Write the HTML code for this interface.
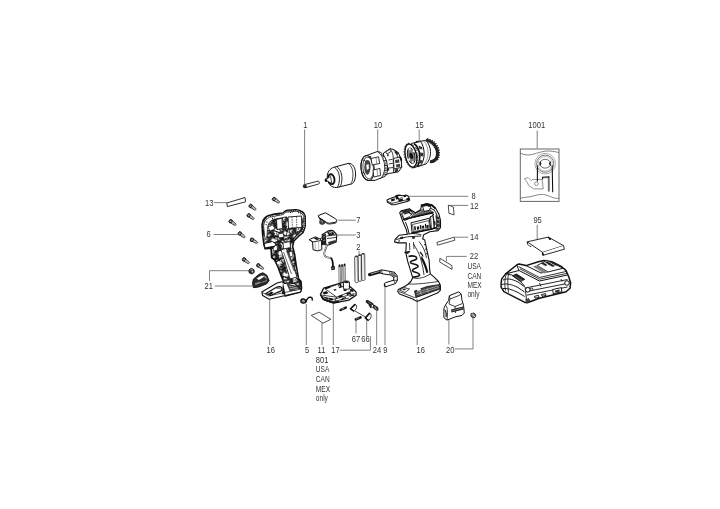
<!DOCTYPE html>
<html><head><meta charset="utf-8">
<style>
html,body{margin:0;padding:0;background:#fff;}
svg{display:block;will-change:transform;}
.t{font-family:"Liberation Sans",sans-serif;font-size:8.8px;fill:#333;}
.ld{stroke:#555;stroke-width:0.75;fill:none;}
.o{stroke:#1a1a1a;stroke-width:0.9;fill:#fff;stroke-linejoin:round;stroke-linecap:round;}
.d{stroke:#1a1a1a;stroke-width:0.7;fill:none;stroke-linecap:round;}
</style></head>
<body>
<svg width="720" height="509" viewBox="0 0 720 509">
<defs>
 <pattern id="tex" width="10" height="10" patternUnits="userSpaceOnUse" patternTransform="rotate(15)">
  <rect width="10" height="10" fill="#fff"/>
  <circle cx="4.5" cy="5.6" r="1.13" fill="none" stroke="#111" stroke-width="0.7"/>
  <path d="M5.1,5.9 L5.0,9.1" stroke="#111" stroke-width="1.12" stroke-linecap="round"/>
  <path d="M0.9,3.0 L-1.8,4.9" stroke="#111" stroke-width="0.82" stroke-linecap="round"/>
  <circle cx="9.8" cy="9.6" r="0.85" fill="#111"/>
  <path d="M1.6,0.2 L3.8,0.6" stroke="#111" stroke-width="0.90" stroke-linecap="round"/>
  <path d="M0.3,4.6 L-2.3,6.0" stroke="#111" stroke-width="1.06" stroke-linecap="round"/>
  <path d="M5.0,6.6 L7.6,9.7" stroke="#111" stroke-width="1.20" stroke-linecap="round"/>
  <path d="M8.4,7.1 L10.2,8.7" stroke="#111" stroke-width="0.83" stroke-linecap="round"/>
  <circle cx="7.7" cy="4.0" r="0.75" fill="#111"/>
  <path d="M9.6,8.5 L12.6,10.8" stroke="#111" stroke-width="0.99" stroke-linecap="round"/>
  <path d="M9.8,4.0 L8.4,7.2" stroke="#111" stroke-width="0.91" stroke-linecap="round"/>
  <circle cx="0.9" cy="3.3" r="1.28" fill="none" stroke="#111" stroke-width="0.7"/>
  <path d="M1.2,2.5 L4.7,3.1" stroke="#111" stroke-width="0.87" stroke-linecap="round"/>
  <path d="M5.6,4.5 L4.2,6.0" stroke="#111" stroke-width="1.06" stroke-linecap="round"/>
  <path d="M1.2,4.2 L3.8,7.2" stroke="#111" stroke-width="1.12" stroke-linecap="round"/>
  <path d="M3.0,8.8 L4.2,12.3" stroke="#111" stroke-width="1.06" stroke-linecap="round"/>
  <path d="M1.0,9.9 L3.4,12.4" stroke="#111" stroke-width="0.93" stroke-linecap="round"/>
  <path d="M3.0,0.7 L2.4,3.0" stroke="#111" stroke-width="1.04" stroke-linecap="round"/>
  <circle cx="3.7" cy="4.5" r="1.14" fill="none" stroke="#111" stroke-width="0.7"/>
  <path d="M5.7,8.7 L9.1,10.4" stroke="#111" stroke-width="1.13" stroke-linecap="round"/>
  <circle cx="2.5" cy="1.9" r="0.98" fill="#111"/>
  <circle cx="2.0" cy="9.5" r="1.20" fill="none" stroke="#111" stroke-width="0.7"/>
  <path d="M4.2,1.0 L1.9,1.3" stroke="#111" stroke-width="1.08" stroke-linecap="round"/>
  <path d="M2.6,8.2 L3.9,10.0" stroke="#111" stroke-width="1.09" stroke-linecap="round"/>
  <path d="M0.7,2.3 L-2.1,3.7" stroke="#111" stroke-width="0.91" stroke-linecap="round"/>
  <path d="M9.2,2.0 L11.0,4.1" stroke="#111" stroke-width="0.82" stroke-linecap="round"/>
  <path d="M1.8,3.7 L4.1,4.7" stroke="#111" stroke-width="1.16" stroke-linecap="round"/>
  <circle cx="9.8" cy="6.6" r="0.83" fill="#111"/>
  <path d="M1.4,0.4 L-1.8,1.3" stroke="#111" stroke-width="1.19" stroke-linecap="round"/>
  <path d="M0.2,6.4 L-1.4,8.2" stroke="#111" stroke-width="1.20" stroke-linecap="round"/>
  <circle cx="0.8" cy="5.5" r="0.96" fill="#111"/>
  <circle cx="7.4" cy="7.0" r="0.97" fill="#111"/>
  <circle cx="3.5" cy="6.9" r="1.34" fill="none" stroke="#111" stroke-width="0.7"/>
  <circle cx="4.2" cy="7.9" r="1.19" fill="none" stroke="#111" stroke-width="0.7"/>
 </pattern>

</defs>


<!-- ===== TOP ROW ===== -->
<!-- pin 1 -->
<g>
 <path class="o" d="M304.5,184.6 L318.2,181.1 C319.4,180.9 319.8,183.6 318.7,184 L305,187.8 Z"/>
 <circle cx="304.8" cy="186.2" r="1.9" fill="#222"/>
</g>
<!-- chuck -->
<g>
 <path d="M333.8,167.3 L348.2,163.4 C353,163 355.5,168 355.6,174 C355.7,180 353,184.5 350.5,184.2 L336.8,187.5 C331,188 327.5,183 327.2,178 C327,172 330,168.5 333.8,167.3 Z" fill="#fff" stroke="#111" stroke-width="1" stroke-linejoin="round"/>
 <path d="M334.5,167.2 C338.5,170 340,176 339.3,181 C338.8,185 338,186.8 337,187.4" fill="none" stroke="#111" stroke-width="0.9"/>
 <path d="M336.8,166.7 C341,169.5 342.5,176 341.8,181 C341.3,184.8 340.5,186.5 339.5,187" fill="none" stroke="#111" stroke-width="0.9"/>
 <path d="M348.2,163.4 C352,166 353,171 353,175 C353,179 352,183 350.5,184.2" fill="none" stroke="#111" stroke-width="0.8"/>
 <ellipse cx="331.3" cy="179.2" rx="3.1" ry="5" transform="rotate(-10 331.3 179.2)" fill="#fff" stroke="#111" stroke-width="1.9"/>
 <path d="M325.6,180 L330.5,176.3 L331.8,183.5 Z" fill="#fff" stroke="#111" stroke-width="0.8" stroke-linejoin="round"/>
 <ellipse cx="325.9" cy="180.2" rx="1.2" ry="1.9" fill="#111"/>
</g>
<!-- gear housing 10 -->
<g>
 <!-- rear housing -->
 <path d="M383.5,153 L390.1,148.7 L393.1,149.3 L398.3,152.5 L399.8,156.2 L401.3,161.4 L401.7,167.4 L398.3,171.9 L389.4,173.4 L384.5,175 Z" fill="#fff" stroke="#111" stroke-width="1" stroke-linejoin="round"/>
 <path d="M390.1,148.7 C392,151 393,154 393.2,157 L393.5,172.8 M393.1,149.3 C395.5,151.5 397,154 397.5,157" fill="none" stroke="#111" stroke-width="0.8"/>
 <path d="M393.5,158.5 L399.5,157 L401.4,161.5 L401.6,167.4 L394,169 Z" fill="#fff" stroke="#111" stroke-width="0.9"/>
 <path d="M395,160 L399,159.2 L399.5,162.5 L395.5,163.3 Z M396,164.5 L400,163.8 L400.3,166.8 L396.3,167.5 Z" fill="#444"/>
 <path d="M387,154.5 L388.6,154 L388.8,156 L387.2,156.5 Z M386.5,168 L389,167.5 L389.3,170.5 L386.8,171 Z" fill="#333"/>
 <path d="M398.3,152.5 L397,155" stroke="#111" stroke-width="1"/>
 <path d="M385.5,152 L389.5,149.5 L391,151.5 L387,154 Z" fill="#fff" stroke="#111" stroke-width="0.8"/>
 <path d="M395.5,150.5 L398,152.3 L396.5,154.5 L394.5,152.5 Z" fill="#222"/>
 <path d="M388.5,160 L392.5,159.3 M388.8,164 L392.8,163.3 M389,168 L393,167.5" stroke="#111" stroke-width="0.8"/>
 <path d="M399.8,156.2 L401.5,159 L401.3,161.5" fill="none" stroke="#111" stroke-width="1.2"/>
 <path d="M394.5,169.5 L398,168.8 L398.3,171.6 L394.8,172.2 Z" fill="#333"/>
 <!-- body cylinder with ring band -->
 <path d="M365.5,156 L369.2,154.5 L377.4,151.5 L380.4,152.3 C384.5,155 387,160 387.5,167 C387.8,172 386.5,175.5 384.9,176.4 L375.2,180.3 L370.7,180.5 C364,181.5 361,174 361,166.5 C361,161.5 362.5,157.5 365.5,156 Z" fill="#fff" stroke="#111" stroke-width="1" stroke-linejoin="round"/>
 <path d="M377.4,151.6 C381.5,154 384,159 384.6,165 C385,171 383.5,176 380.5,178.5" fill="none" stroke="#111" stroke-width="0.9"/>
 <path d="M380.8,154.5 L384,156.8 M383.2,160.5 L386.5,160.8 M384.4,165.5 L387.3,165.6 M384.6,170.5 L387.3,170.2 M383.5,175 L386,174.5" stroke="#111" stroke-width="0.9"/>
 <path d="M381.5,156 L383.5,157.5 L384.2,160.2 L382.3,159.5 Z M384,162 L386.3,162.5 L386.6,164.8 L384.4,164.5 Z M384.5,167.3 L387,167.3 L386.8,169.5 L384.6,169.6 Z M384,172 L386.4,171.6 L385.6,173.6 L383.5,174 Z" fill="#777"/>
 <!-- front rim -->
 <ellipse cx="367.6" cy="168" rx="6.6" ry="12.6" transform="rotate(-6 367.6 168)" fill="none" stroke="#111" stroke-width="1"/>
 <ellipse cx="368.2" cy="168" rx="5.2" ry="11" transform="rotate(-6 368.2 168)" fill="none" stroke="#111" stroke-width="0.7"/>
 <!-- windows on body -->
 <path d="M371,158.5 L378.5,156.8 L379.7,163.5 L372.2,165 Z M373,170 L380,168.5 L380.5,175.5 L373.8,177 Z" fill="#fff" stroke="#111" stroke-width="0.85"/>
 <path d="M376,157.5 L376.8,164 M377,169.2 L377.6,176" stroke="#555" stroke-width="0.6"/>
 <path d="M365,161.5 C366.5,159 369.5,159.5 370.3,163 C371,167 370.5,172.5 368,174.5 C366,175.5 364.3,172 364.3,167 Z" fill="#444"/>
 <path d="M366.3,165 L368.5,164 L369,168.5 L366.8,170 Z" fill="#fff"/>
 <path d="M362.8,171.5 L365,174.5 M369,157.5 L371.2,156.3 M363.5,160 L365.5,161" stroke="#111" stroke-width="0.9"/>
</g>
<!-- motor 15 -->
<g>
 <!-- rear gear -->
 <path d="M425.9,140.4 C430,140.5 434.5,144 436.5,148.5 C438.3,152.5 437.8,157.5 435,160 C433.5,161.5 431.5,161.8 430,161.5" fill="none" stroke="#222" stroke-width="3.2"/>
 <path d="M427,139 C431.5,139.2 436.2,143 438.3,148 C440,152.5 439.5,158 436.5,161" fill="none" stroke="#222" stroke-width="1.6" stroke-dasharray="1.3 1.1"/>
 <path d="M426.5,141.5 C430,142 433.3,145 434.8,149 C436,152.5 435.8,156.5 433.8,158.8" fill="none" stroke="#fff" stroke-width="0.5" stroke-dasharray="1 1.2"/>
 <!-- white band -->
 <path d="M416,141.5 L425.9,140.6 C428.5,143 430.3,147 430.5,151.5 C430.6,156 429.5,161 425.9,164 L418,166.5 Z" fill="#fff" stroke="#111" stroke-width="1"/>
 <path d="M424,141.2 C426.5,144 428,148.5 428,153 C428,157.5 426.5,161.5 424,164.3" fill="none" stroke="#555" stroke-width="0.6"/>
 <!-- ribbed zone -->
 <path d="M411.8,143.3 L420.6,141.5 C422.8,144 424,149 424.2,153.5 C424.3,158 423,162.5 420.5,165.5 L413.8,167.8 Z" fill="#fff" stroke="#111" stroke-width="1"/>
 <path d="M414,143.5 C417.5,146 419.5,151 419.8,156 C420,160 419,164 417.5,166.8" fill="none" stroke="#111" stroke-width="1.6"/>
 <path d="M418.5,145.5 L422,147 L422.5,149.5 L419.5,149 Z M420,152.5 L423.5,153 L423.3,156.5 L420.3,156 Z M419,160 L422.5,160.3 L421.5,163.5 L418.7,163 Z" fill="#333"/>
 <path d="M415.5,147.5 L418.5,151 M416,158 L418.8,155.5" stroke="#111" stroke-width="0.9"/>
 <!-- front gear -->
 <ellipse cx="410.9" cy="155.6" rx="5.6" ry="11.8" transform="rotate(-12 410.9 155.6)" fill="#fff" stroke="#111" stroke-width="1.4"/>
 <ellipse cx="410.9" cy="155.6" rx="6.5" ry="12.7" transform="rotate(-12 410.9 155.6)" fill="none" stroke="#111" stroke-width="0.9" stroke-dasharray="1.1 1.6"/>
 <ellipse cx="411.2" cy="155.8" rx="3.6" ry="8" transform="rotate(-12 411.2 155.8)" fill="#888" stroke="#111" stroke-width="0.9"/>
 <ellipse cx="411.3" cy="155.8" rx="1.8" ry="3.2" transform="rotate(-12 411.3 155.8)" fill="#111"/>
 <path d="M408.5,148.5 L410.2,147.5 L410.8,149.8 L409.2,150.6 Z M412.5,150 L414,149.8 L414.3,152 L412.8,152.2 Z M408,158.5 L409.6,158.2 L410,160.6 L408.4,160.9 Z M411.8,161.5 L413.4,161 L413.6,163.2 L412,163.6 Z" fill="#fff"/>
</g>
<!-- ===== LEFT GROUP ===== -->
<!-- strip 13 -->
<path class="o" d="M227.2,202.9 L245,197.5 L245.6,201.8 L227.7,206.5 Z"/>
<!-- screws -->
<g transform="translate(250.6,205.9) rotate(36)">
  <path d="M0.8,-1.35 L5.6,-1 C6.8,-0.8 6.8,0.8 5.6,1 L0.8,1.35 Z" fill="#fff" stroke="#222" stroke-width="0.8" stroke-linejoin="round"/>
  <path d="M2.3,-1.2 L2.8,1.2 M3.5,-1.1 L4,1.1 M4.7,-1 L5.2,1" stroke="#666" stroke-width="0.55"/>
  <ellipse cx="0" cy="0" rx="1.5" ry="1.8" fill="#555" stroke="#111" stroke-width="0.9"/>
  <ellipse cx="0.3" cy="0" rx="0.45" ry="0.8" fill="#ddd"/>
 </g>
<g transform="translate(248.6,215.3) rotate(36)">
  <path d="M0.8,-1.35 L5.6,-1 C6.8,-0.8 6.8,0.8 5.6,1 L0.8,1.35 Z" fill="#fff" stroke="#222" stroke-width="0.8" stroke-linejoin="round"/>
  <path d="M2.3,-1.2 L2.8,1.2 M3.5,-1.1 L4,1.1 M4.7,-1 L5.2,1" stroke="#666" stroke-width="0.55"/>
  <ellipse cx="0" cy="0" rx="1.5" ry="1.8" fill="#555" stroke="#111" stroke-width="0.9"/>
  <ellipse cx="0.3" cy="0" rx="0.45" ry="0.8" fill="#ddd"/>
 </g>
<g transform="translate(230.6,221.2) rotate(36)">
  <path d="M0.8,-1.35 L5.6,-1 C6.8,-0.8 6.8,0.8 5.6,1 L0.8,1.35 Z" fill="#fff" stroke="#222" stroke-width="0.8" stroke-linejoin="round"/>
  <path d="M2.3,-1.2 L2.8,1.2 M3.5,-1.1 L4,1.1 M4.7,-1 L5.2,1" stroke="#666" stroke-width="0.55"/>
  <ellipse cx="0" cy="0" rx="1.5" ry="1.8" fill="#555" stroke="#111" stroke-width="0.9"/>
  <ellipse cx="0.3" cy="0" rx="0.45" ry="0.8" fill="#ddd"/>
 </g>
<g transform="translate(239.7,233.4) rotate(38)">
  <path d="M0.8,-1.35 L5.6,-1 C6.8,-0.8 6.8,0.8 5.6,1 L0.8,1.35 Z" fill="#fff" stroke="#222" stroke-width="0.8" stroke-linejoin="round"/>
  <path d="M2.3,-1.2 L2.8,1.2 M3.5,-1.1 L4,1.1 M4.7,-1 L5.2,1" stroke="#666" stroke-width="0.55"/>
  <ellipse cx="0" cy="0" rx="1.5" ry="1.8" fill="#555" stroke="#111" stroke-width="0.9"/>
  <ellipse cx="0.3" cy="0" rx="0.45" ry="0.8" fill="#ddd"/>
 </g>
<g transform="translate(251.8,239.7) rotate(30)">
  <path d="M0.8,-1.35 L5.6,-1 C6.8,-0.8 6.8,0.8 5.6,1 L0.8,1.35 Z" fill="#fff" stroke="#222" stroke-width="0.8" stroke-linejoin="round"/>
  <path d="M2.3,-1.2 L2.8,1.2 M3.5,-1.1 L4,1.1 M4.7,-1 L5.2,1" stroke="#666" stroke-width="0.55"/>
  <ellipse cx="0" cy="0" rx="1.5" ry="1.8" fill="#555" stroke="#111" stroke-width="0.9"/>
  <ellipse cx="0.3" cy="0" rx="0.45" ry="0.8" fill="#ddd"/>
 </g>
<g transform="translate(243.9,259.4) rotate(36)">
  <path d="M0.8,-1.35 L5.6,-1 C6.8,-0.8 6.8,0.8 5.6,1 L0.8,1.35 Z" fill="#fff" stroke="#222" stroke-width="0.8" stroke-linejoin="round"/>
  <path d="M2.3,-1.2 L2.8,1.2 M3.5,-1.1 L4,1.1 M4.7,-1 L5.2,1" stroke="#666" stroke-width="0.55"/>
  <ellipse cx="0" cy="0" rx="1.5" ry="1.8" fill="#555" stroke="#111" stroke-width="0.9"/>
  <ellipse cx="0.3" cy="0" rx="0.45" ry="0.8" fill="#ddd"/>
 </g>
<g transform="translate(258.1,265.3) rotate(34)">
  <path d="M0.8,-1.35 L5.6,-1 C6.8,-0.8 6.8,0.8 5.6,1 L0.8,1.35 Z" fill="#fff" stroke="#222" stroke-width="0.8" stroke-linejoin="round"/>
  <path d="M2.3,-1.2 L2.8,1.2 M3.5,-1.1 L4,1.1 M4.7,-1 L5.2,1" stroke="#666" stroke-width="0.55"/>
  <ellipse cx="0" cy="0" rx="1.5" ry="1.8" fill="#555" stroke="#111" stroke-width="0.9"/>
  <ellipse cx="0.3" cy="0" rx="0.45" ry="0.8" fill="#ddd"/>
 </g>
<g transform="translate(273.9,199) rotate(33)">
  <path d="M0.8,-1.35 L5.6,-1 C6.8,-0.8 6.8,0.8 5.6,1 L0.8,1.35 Z" fill="#fff" stroke="#222" stroke-width="0.8" stroke-linejoin="round"/>
  <path d="M2.3,-1.2 L2.8,1.2 M3.5,-1.1 L4,1.1 M4.7,-1 L5.2,1" stroke="#666" stroke-width="0.55"/>
  <ellipse cx="0" cy="0" rx="1.5" ry="1.8" fill="#555" stroke="#111" stroke-width="0.9"/>
  <ellipse cx="0.3" cy="0" rx="0.45" ry="0.8" fill="#ddd"/>
 </g>
<!-- nut -->
<g>
 <path d="M248.8,270 L251.2,268.3 L253.9,269.6 L254.3,272.3 L252,274 L249.2,272.8 Z" fill="#333" stroke="#111" stroke-width="0.9" stroke-linejoin="round"/>
 <path d="M249.8,270.3 L251.3,269.3 L253,270.1" fill="none" stroke="#ddd" stroke-width="0.6"/>
 <ellipse cx="252.4" cy="271.6" rx="0.9" ry="1.1" fill="#bbb"/>
</g>
<!-- part 21 -->
<g>
 <path d="M253.4,279.1 L258.9,274.4 L262.8,272.8 L266.7,275.1 L269.1,280.6 L266.7,283.8 L258.9,286.9 L253.4,287.7 L252.6,283 Z" fill="#2a2a2a" stroke="#111" stroke-width="1" stroke-linejoin="round"/>
 <path d="M256.5,278.5 L261.5,275.5 L264.5,276.5 L259,280 Z" fill="#fff"/>
 <path d="M262.5,274.5 L265.8,276.2 L267.5,279.5 L265,278 Z" fill="#999"/>
 <path d="M254.5,283.5 L260,281.5 L261,283 L255.5,285 Z" fill="#888"/>
 <path d="M261.5,282.5 L267,280.5" stroke="#ccc" stroke-width="0.6"/>
</g>
<!-- left housing 16 -->
<g>
 <path id="lh" d="M262,224.9 C262.5,220 265,217 268,215.7 L274.4,214 L283.1,213 C284.5,211.5 285.5,210.5 287.4,210.3 L296,209.7 C300,210 302.5,211.9 302.5,211.9 C304.5,213.5 305.2,216.2 305.2,216.2 L305.2,226 C304.8,229 303.1,232.4 303.1,232.4 L298.2,236.7 L293.9,241.1 L292.6,246.5 L294.6,254.2 L296.9,269.5 L298.7,278.9 L301,281.3 L301.6,288.3 L300.5,291.9 L285,296 L283.4,281.3 L281,275.4 L278,267.1 L274.5,260 L271.6,257.7 L271,248.3 L265.1,248.8 L263.9,244.7 L262.6,234.6 Z" fill="url(#tex)" stroke="#111" stroke-width="1.5" stroke-linejoin="round"/>
 <!-- inner wall of head -->
 <path d="M264.5,226 C265,221.5 267,219 270,217.8 L283.5,215.5 C285,213.5 287,212.5 290,212.3 L297,212 C300.5,212.5 302.5,214.5 303,217 L303,226 C302.5,229 301,231 298.5,233.5" fill="none" stroke="#111" stroke-width="0.8"/>
 <path d="M263.5,226 C264,221 266,218 269,216.7 L283,214.2 C284.5,212.3 286.5,211.3 289.5,211.2 L297,210.9 C301,211.3 303.6,213.5 304.1,216.5 L304.2,226 C303.8,229 302.5,231.5 299.5,234.5" fill="none" stroke="#fff" stroke-width="0.9" stroke-dasharray="1.2 1"/>
 <path d="M266,223 C268,221 272,220.5 275,221 M265,232 C270,229 276,231 280,233 L286,236 M266,238 L276,236 L284,240 M270,244 L280,241 L286,246 M275,252 L281,250 M276,262 L282,258 M279,270 L286,268 M282,276 L292,279 M298.5,233.5 L292,240 L288,248" fill="none" stroke="#111" stroke-width="1.2"/>
 <path d="M268,227 L273,225 L275,229 L270,231 Z M278,234 L283,233 L284,237 L279,238 Z M273,246 L277,245 L277.5,250 L273.5,251 Z M289,252 L292,251 L293,256 L290,257 Z" fill="#fff" stroke="#111" stroke-width="0.7"/>
 <!-- white rim band & chin -->
 <path d="M263.6,226 C264,221.5 266.5,218.5 269.5,217.2 L283.5,214.5 L285,212.3 L296,211.3 C300,211.6 302.8,213.5 303.6,216.5 L303.8,219 L300,218.5 L288,219 L286.5,216.8 L273,219.5 C269.5,221 268,224 267.5,228 L267,236 L265,240 Z" fill="#fff" stroke="#111" stroke-width="0.7"/>
 <path d="M266,225 L267.5,220.5 M272,218.5 L275,218 M290,212.5 L293,212.3 M298,212.5 L301,214" stroke="#111" stroke-width="1.1" stroke-dasharray="1 1.5"/>
 <path d="M264.2,243.5 L272.5,241.5 L276,244 L274.4,246.5 L265,248.4 Z" fill="#fff" stroke="#111" stroke-width="1"/>
 <path d="M265,248.4 L274.4,246.5" stroke="#111" stroke-width="1.6"/>
 <!-- windows -->
 <path d="M276.5,219.5 L282,218.2 L282.5,228.5 L277,229.5 Z" fill="#fff" stroke="#111" stroke-width="0.9"/>
 <path d="M288,217 L301.5,216 L301.8,227.5 L288.5,228.5 Z" fill="#fff" stroke="#111" stroke-width="0.9"/>
 <path d="M292,216.8 L292.4,228.2 M296.5,216.5 L296.8,227.9" stroke="#333" stroke-width="0.8" stroke-dasharray="1.5 1"/>
 <path d="M288,228.5 L301.8,227.5 L299,233 L286,236 Z" fill="url(#tex)" stroke="#111" stroke-width="0.7"/>
 <!-- diagonal strip in handle -->
 <path d="M281,250 L286,248 L294,268 L297,277 L290,279 L285,262 Z" fill="#fff" stroke="#111" stroke-width="0.8"/>
 <path d="M283.5,252 L291.5,274 M286.5,251 L294,271" stroke="#111" stroke-width="0.6"/>
 <path d="M283,243 L290,241.5 L290.5,247.5 L283.5,249 Z" fill="#fff" stroke="#111" stroke-width="0.8"/>
 <path d="M271.5,248.5 L272,257.5 L274.5,260 L278,258" fill="none" stroke="#111" stroke-width="1.2"/>
 <!-- foot -->
 <path d="M261.8,292 L277,283 L282,281.8 L285,283.5 L287.5,283 L295,283.8 L301.5,289.5 L300.5,292 L269,299.3 L262.7,295.5 Z" fill="#fff" stroke="#111" stroke-width="1.1" stroke-linejoin="round"/>
 <path d="M262.5,292.5 L268.5,296 L300.5,289" fill="none" stroke="#111" stroke-width="0.7"/>
 <path d="M266,293.5 L276,287.5 C279,286 281.5,286.5 282,288.5 C282.3,290.5 280,291.8 277.5,292.3 L270.5,295.5 Z" fill="#fff" stroke="#111" stroke-width="1.2"/>
 <path d="M267.5,294.2 L271.5,291.5 L273.5,292.8 L270.5,295 Z" fill="#111"/>
 <path d="M276.5,288.5 C278.5,287.6 280.5,288 280.5,289.2" stroke="#111" stroke-width="0.8" fill="none"/>
 <path d="M283,282 L285.5,295 L282,294 Z" fill="#111"/>
 <path d="M287,284 L298,286.5 L300,289.3 L290,291 Z" fill="#444" stroke="#111" stroke-width="0.6"/>
 <path d="M289,286 L297.5,288 M289.5,288.3 L298.5,289.5" stroke="#eee" stroke-width="0.5"/>
 <path d="M296,278 L300.5,281" stroke="#111" stroke-width="1.3"/>
</g>

<!-- ===== MIDDLE GROUP ===== -->
<!-- trigger 7 -->
<g>
 <path d="M320.2,218.5 L324.5,220.2 L324.3,223.6 C323,224.6 320.8,224.4 319.8,223.3 Z" fill="#555" stroke="#111" stroke-width="0.9"/>
 <path d="M320.8,220.5 L323.5,221.5" stroke="#eee" stroke-width="0.7"/>
 <path d="M318.3,215.5 L325.6,212.8 L335.8,219 C337,219.8 336.8,221.6 335.2,222.3 L329.8,223.2 C328.6,223.3 327.5,223 326.6,222.4 L318.8,217.3 Z" fill="#fff" stroke="#111" stroke-width="1" stroke-linejoin="round"/>
 <path d="M318.8,217.3 L319.2,218.3 L326.8,223.5 C327.8,224 329,224.2 330.3,224 L335.3,223.2 C336.5,222.8 336.9,222 336.8,221.2" fill="none" stroke="#111" stroke-width="0.8"/>
</g>
<!-- switch 3 -->
<g>
 <path d="M309.2,239.6 L315.4,236.9 L319.6,238.7 L321.4,240.5 L321.9,249.6 L317.8,250.9 L313.1,249.8 L312.5,241.9 Z" fill="#fff" stroke="#111" stroke-width="1" stroke-linejoin="round"/>
 <path d="M309.2,239.6 L312.5,241.9 L321.4,240.5" fill="none" stroke="#111" stroke-width="0.9"/>
 <path d="M313.5,238.2 L315.4,237.2 L319.5,239 L317,240.2 Z" fill="#222"/>
 <path d="M315,242 L315.3,249.8 M318.5,241.5 L318.8,250.2" stroke="#888" stroke-width="0.6"/>
 <path d="M322.2,234.8 L326.5,232 C328,230.6 331,230.2 333,230.6 L335.8,233.5 L336.8,235 L336.2,242 L328.4,245 L322.5,244.5 Z" fill="#fff" stroke="#111" stroke-width="1.1" stroke-linejoin="round"/>
 <path d="M322.2,234.8 L326,234 L326.3,244.6 L322.5,244.5 Z" fill="#222"/>
 <path d="M323.2,237 L325,236.6 M323.3,240.5 L325.1,240.1" stroke="#ddd" stroke-width="0.6"/>
 <path d="M327,232 C328.5,230.8 331.5,230.8 333.5,232.3 L334.5,234.5 L329,236 Z" fill="#222"/>
 <path d="M329,233 C330,232.4 331.5,232.5 332,233.3" stroke="#fff" stroke-width="0.7" fill="none"/>
 <path d="M326.5,236.2 L336.5,234.6 M327,238.6 L336.4,237.3" fill="none" stroke="#111" stroke-width="0.8"/>
 <path d="M328,242 L335.5,240 L336.2,242 L329,244.5 Z" fill="#333"/>
 <path d="M319.6,238.7 L322.3,237.8" stroke="#111" stroke-width="0.9"/>
 <path d="M327.4,244.5 C326,248 324,251 324.2,254 C324.5,257 327,257.8 330.5,257.8" fill="none" stroke="#222" stroke-width="1.7"/>
 <path d="M327.4,244.5 C326,248 324,251 324.2,254 C324.5,257 327,257.8 330.5,257.8" fill="none" stroke="#fff" stroke-width="0.8"/>
 <path d="M330.5,257.8 C332.5,258.5 333,262 333,267" fill="none" stroke="#111" stroke-width="1.8"/>
 <path d="M331,266.5 L334.7,266 L335,269.5 L331.5,270.3 Z" fill="#111"/>
 <path d="M331.8,268.3 L334.2,267.9" stroke="#fff" stroke-width="0.5"/>
</g>
<!-- rods 2 -->
<g fill="#fff" stroke="#222" stroke-width="0.8">
 <path d="M354.7,257.2 C354.7,255.6 357.9,255.6 357.9,257.2 L358.2,281.6 C358.2,283 355,283 355,281.6 Z"/>
 <path d="M358.1,255.9 C358.1,254.3 361.3,254.3 361.3,255.9 L361.6,280.3 C361.6,281.7 358.4,281.7 358.4,280.3 Z"/>
 <path d="M361.5,254.6 C361.5,253 364.7,253 364.7,254.6 L365,279.4 C365,280.8 361.8,280.8 361.8,279.4 Z"/>
</g>
<g fill="#333">
 <ellipse cx="356.3" cy="256.6" rx="1.5" ry="0.8"/>
 <ellipse cx="359.7" cy="255.3" rx="1.5" ry="0.8"/>
 <ellipse cx="363.1" cy="254" rx="1.5" ry="0.8"/>
</g>
<path d="M356.8,258 L357.4,281 M360.2,256.7 L360.8,280 M363.6,255.4 L364.2,279" stroke="#aaa" stroke-width="0.5"/>
<!-- pins on board -->
<g stroke="#333" stroke-width="0.6" fill="#fff">
 <path d="M338.8,265.5 L340.2,265.2 L340.5,285 L339.1,285.2 Z"/>
 <path d="M341.3,265.2 L342.7,264.9 L343,284.8 L341.6,285 Z"/>
 <path d="M343.8,264.6 L345.2,264.3 L345.5,284.5 L344.1,284.7 Z"/>
</g>
<path d="M339.5,264.5 L339.6,267 M342,264.2 L342.1,266.7 M344.5,263.6 L344.6,266.1" stroke="#111" stroke-width="1.3"/>
<!-- electronics board 17 -->
<g>
 <path d="M320.4,294.6 L323.7,288.1 L337.2,284.2 L344.5,282 L353.7,289.7 L356.1,292.1 L356.1,295.2 L348.8,300.1 L333.5,303.1 L323.1,299.5 Z" fill="#fff" stroke="#111" stroke-width="1.3" stroke-linejoin="round"/>
 <path d="M325,288.8 L337.2,284.5 L353.1,290.3 L336.8,297.2 Z" fill="#fff" stroke="#111" stroke-width="0.8"/>
 <path d="M336.8,297.2 L334,303 M320.8,295 L336.8,297.2" fill="none" stroke="#111" stroke-width="0.8"/>
 <path d="M322,296.5 L333,299.5 L354.5,293.5 M323.5,299 L333.5,301.5 L349,298" fill="none" stroke="#111" stroke-width="0.8"/>
 <path d="M320.6,295.2 C321.5,298 323,300 326,301.3 L333.5,303.6 L340,302 L338,300.8 L333.3,301.8 L326.5,299.6 C324,298.6 322.5,297 321.8,295.4 Z" fill="#111"/>
 <path d="M324.5,297.5 L328,298.8 M342,298.8 L346,297.5 M349.5,296.3 L353,295" stroke="#111" stroke-width="1.3"/>
 <path d="M322.5,292.5 L326.5,291 L328.5,293.3 L324,294.6 Z M329,297.7 L333,298.6 L332.5,300.5 L328.5,299.5 Z M338,296 L342,294.7 L343.3,296.5 L339,297.8 Z M346,293.4 L350,292 L351.5,293.5 L347.2,295 Z M343,289.5 L346,288.7 L347,290.5 L344,291.3 Z M350.5,289 L354,290.5 L353,292 L350,290.8 Z M325,287.8 L330,286.4 L330.5,287.8 L325.5,289.2 Z M333.5,289.5 L336,288.9 L336.5,290.2 L334,290.8 Z" fill="#111"/>
 <path d="M327.5,301 L330,301.6 M340.5,300 L343,299.2 M352,295.8 L354.5,294.8" stroke="#111" stroke-width="1.2"/>
 <path d="M343.4,282.2 C343.4,280.6 349.4,280.6 349.4,282.2 L349.4,288.2 C349.4,289.6 343.4,289.6 343.4,288.2 Z" fill="#fff" stroke="#111" stroke-width="1"/>
 <ellipse cx="346.4" cy="282.1" rx="2.9" ry="1.1" fill="#222"/>
 <path d="M338.3,284.5 L341,283.6 L341.8,287.5 L339,288.3 Z" fill="#111"/>
 <path d="M339.2,284.8 L339.4,287.2" stroke="#fff" stroke-width="0.6"/>
</g>
<!-- clip 5 -->
<g fill="none" stroke="#111">
 <path d="M300.8,300.2 C301.5,298.8 303.5,298.6 305.2,299.6 L306.3,301.6 C305.3,303.3 302.5,303.6 301.1,302.3 Z" stroke-width="1.3" fill="#666"/>
 <path d="M302.3,300.6 L304.6,301.2" stroke="#fff" stroke-width="0.7"/>
 <path d="M305.8,301.3 L307.6,298.6 C308.6,297.2 310.8,296.8 312,297.8 L312.4,300.6" stroke-width="1.4"/>
</g>
<!-- paper 11 -->
<path d="M311.2,315.4 L319.1,312.2 L330.9,319.3 L323,323.2 Z" fill="#fff" stroke="#222" stroke-width="0.8" stroke-linejoin="round"/>
<!-- springs 67 -->
<path d="M340.5,310 L345.8,307.6" stroke="#111" stroke-width="2.4" stroke-linecap="round"/>
<path d="M341.8,309.7 L342.5,308.2 M343.3,309.1 L344,307.6" stroke="#fff" stroke-width="0.5"/>
<path d="M355.8,319.5 L360.6,317.4" stroke="#111" stroke-width="2.5" stroke-linecap="round"/>
<path d="M356.6,319.5 L357.3,318 M358.1,318.8 L358.8,317.3" stroke="#fff" stroke-width="0.5"/>
<!-- axle 66 -->
<g>
 <path d="M352.5,309.5 L366,317.3" stroke="#333" stroke-width="0.9"/>
 <path d="M350.5,308.8 L354.8,304.6 C356,304 356.8,305.5 356.5,307.5 C356.2,309.5 355,311 353.5,310.9 Z" fill="#fff" stroke="#111" stroke-width="0.8" stroke-linejoin="round"/>
 <path d="M350.5,308.8 L354.8,304.6 M350.5,308.8 L353.5,310.9" stroke="#111" stroke-width="1.6" stroke-linecap="round"/>
 <path d="M365.3,318 L369.4,313.4 C370.6,312.8 371.4,314.5 371.1,316.5 C370.8,318.6 369.5,320.3 368,320.2 Z" fill="#fff" stroke="#111" stroke-width="0.8" stroke-linejoin="round"/>
 <path d="M365.3,318 L369.4,313.4 M365.3,318 L368,320.2" stroke="#111" stroke-width="1.6" stroke-linecap="round"/>
</g>
<!-- plunger 24 -->
<g transform="translate(0.4,1)">
 <path d="M367,300.6 L371.5,303.5" stroke="#222" stroke-width="3.4" stroke-linecap="round"/>
 <path d="M369,303.8 L370.5,306.2" stroke="#222" stroke-width="1.8" stroke-linecap="round"/>
 <path d="M371.5,303.2 L373.5,304.3 L372.2,306.5 L370.5,305.3 Z" fill="#fff" stroke="#111" stroke-width="0.7"/>
 <path d="M373.5,304 L377.5,306.5 L377.6,309.3 L374.8,308.5 L372.8,306.8 Z" fill="#333" stroke="#111" stroke-width="0.8" stroke-linejoin="round"/>
 <path d="M374.3,305.5 L375.8,308" stroke="#eee" stroke-width="0.6"/>
 <path d="M368.3,300.8 L369,302.2 M369.8,301.7 L370.5,303.1" stroke="#ccc" stroke-width="0.5"/>
</g>
<!-- bracket 9 -->
<g>
 <path d="M369.6,274.6 L380.2,271.6" stroke="#111" stroke-width="3.2" stroke-linecap="round"/>
 <path d="M370.6,273.9 L379.6,271.4" stroke="#fff" stroke-width="0.6"/>
 <path d="M380,270.5 L381.5,269.8 L389.5,271.3 L394.5,272.3 L397.2,275.8 L397.4,280.4 L395.4,283.6 L385.6,286.8 L384.4,286.5 L384.4,283.4 L385.8,282.6 L393.6,280.2 L393.8,277.4 L390.4,275 L382.4,273.8 L380.2,273.2 Z" fill="#fff" stroke="#111" stroke-width="1" stroke-linejoin="miter"/>
 <path d="M381.5,269.8 L382.4,273.8 M389.5,271.3 L390.4,275 M394.5,272.3 L393.8,277.4 M397.2,275.8 L393.8,277.4 M397.4,280.4 L393.6,280.2 M395.4,283.6 L393.6,280.2 M384.4,283.4 L385.6,286.8" fill="none" stroke="#111" stroke-width="0.8"/>
 <path d="M391,272 L394,272.6 L396.6,275.9 L393.8,277.2 L390.6,274.9 Z" fill="#777"/>
</g>
<!-- ===== RIGHT GROUP ===== -->
<!-- slider 8 -->
<g>
 <path d="M387,200 L389.7,198.7 L395,196.7 L396.3,195.6 L399,195.1 L403,195.8 L406.1,195.1 L408.3,196.2 L409.7,200 L407.9,201.3 L394.6,204.7 L391.9,204.7 L387.4,202.2 Z" fill="#fff" stroke="#111" stroke-width="1.1" stroke-linejoin="miter"/>
 <path d="M387.4,201.2 L392,203.3 L408.8,199.3 M392,203.3 L392,204.6" fill="none" stroke="#111" stroke-width="0.8"/>
 <path d="M395.4,196.2 L398.1,195.6 L398.6,198.9 L395.9,199.4 Z M398.1,198.3 L402.6,197.3 L403,200.8 L398.6,201.8 Z M391,199.2 L394.6,198.2 L394.9,200.6 L391.3,201.5 Z M406.4,198.2 L409.2,197.8 L409.6,200.1 L406.8,200.7 Z M403.5,195.8 L406,195.3 L406.3,196.8 L403.8,197.3 Z" fill="#111"/>
 <path d="M399,199 L403,198" stroke="#fff" stroke-width="0.6"/>
</g>
<!-- label 12 -->
<path d="M448.3,205.1 L453.3,207 L454.1,214.9 L448.9,213.3 Z" fill="#fff" stroke="#222" stroke-width="0.8" stroke-linejoin="round"/>
<!-- strip 14 -->
<path d="M436.8,242.4 L454.1,237.2 L454.9,240.2 L437.6,245.2 Z" fill="#fff" stroke="#222" stroke-width="0.8" stroke-linejoin="round"/>
<!-- strip 22 -->
<path d="M439.9,258.3 L452,265.7 L452,269.4 L439.7,262 Z" fill="#fff" stroke="#222" stroke-width="0.8" stroke-linejoin="round"/>
<!-- right housing 16 -->
<g>
 <path d="M399.7,212.8 L401.2,210.7 L409.4,208.7 L411.4,210.2 L415.5,212.8 L420.6,209.7 L421.6,205.1 L426.7,204.1 L431.8,205.1 L435.9,208.7 L439,214.3 L440.5,220.4 L440.5,227.6 L438,230.6 L429.8,231.7 L423.7,234.7 L422.6,238.8 L424.7,240 L427.2,251.3 L429.1,260.1 L429.7,270.2 L430.3,273.9 L434.7,277.7 L438.5,281.5 L440.4,285.2 L440.4,290.2 L437.9,292.8 L417.1,301.6 L412.7,299 L399.5,294 L397.7,291.5 L398.3,289.6 L404.6,286.5 L408.3,284 L410.8,281.5 L412.7,277.7 L410.8,271.4 L407.7,261.4 L405.8,252.6 L406.3,242.9 L398.1,242.9 L394.6,241.9 L395.1,239.3 L399.2,235.2 L407.3,234.2 L406.3,229.6 L403.2,222.5 Z" fill="#fff" stroke="#111" stroke-width="1.1" stroke-linejoin="round"/>
 <!-- head details -->
 <path d="M401.2,211.5 L409.4,209.6 L414.5,213.8 L410.5,218 L404.5,220.5 M401.2,213.2 C402.5,216 403.5,219 404.5,220.5 M414.5,213.8 L420.6,210.5 L430,208 L435,210.5 M410.5,218 L428.5,213.5 L433.5,212.5 M405.5,222 C407,226 408.5,230 409.3,234.3 M411,222.8 L429.2,218.3 L430.8,229.2 L412.2,233.2 Z M429.2,218.3 L434,214 M430.8,229.2 L437.5,227" fill="none" stroke="#111" stroke-width="1"/>
 <path d="M402,211.8 L409,210 L413,213.5 L409.5,216.5 L404,219 C403,216.5 402.5,214 402,211.8 Z" fill="#fff" stroke="#111" stroke-width="0.6"/>
 <path d="M402.5,211.6 L409.2,210 L410.5,211.5 L403,213.4 Z" fill="#222"/>
 <path d="M415,214.5 L421,211.2 L429.5,209 L433.5,212 L428.5,213.2 L410.8,217.6 Z" fill="#666"/>
 <path d="M412.5,224.5 L428.8,220.6 L429.8,228 L413.5,231.8 Z" fill="#fff" stroke="#111" stroke-width="0.7"/>
 <path d="M414,226.5 L415.5,226.1 L416,230 L414.5,230.4 Z M416.8,226.8 L419,226.3 L419.3,229.3 L417.1,229.8 Z M419.8,225.3 L421.2,225 L421.6,228.7 L420.2,229 Z M422,226 L424,225.5 L424.3,228.3 L422.3,228.7 Z M424.8,224 L426,223.7 L426.5,227.8 L425.3,228 Z M426.5,225.3 L428.5,224.8 L428.8,227.6 L426.8,228 Z" fill="#111"/>
 <path d="M422.5,206 L427,205.3 L431,207 L429,210.5 L424,211.3 Z" fill="#fff" stroke="#111" stroke-width="0.9"/>
 <path d="M421.8,205.4 L426.7,204.5 L431.5,205.7 L430.8,207 L426.5,206 L422.5,206.8 Z" fill="#222"/>
 <path d="M434.5,210.5 C437,214 438.5,219 438.5,224 L436.5,228.5 M432.5,214.5 L434.5,222.5 L434,229" fill="none" stroke="#111" stroke-width="0.9"/>
 <path d="M436.3,215 L439.3,217 L439.5,221.5 L436.8,220.5 Z M436.5,223 L439.5,223.5 L439,228 L436,227 Z M433.5,221 L435.5,221.5 L435.5,225 L433.8,224.5 Z" fill="#222"/>
 <path d="M396,239.5 L407.5,236.8 L421,236 M398.5,242.5 L399.5,239.8 M407.3,234.2 C410,233.5 416,233 421.5,235" fill="none" stroke="#111" stroke-width="0.9"/>
 <path d="M400,237.3 L402.8,236.6 L403.3,238.8 L400.5,239.3 Z M412,236.6 L414.8,236.3 L415,238.6 L412.3,238.9 Z" fill="#222"/>
 <!-- extra darkening head -->
 <path d="M420.8,205.6 L426.7,204 L431.8,205.1 L435.5,208.5" fill="none" stroke="#111" stroke-width="1.8"/>
 <path d="M403,219.5 L410.5,217.8 L428.5,213.6 L433.5,212.6" fill="none" stroke="#111" stroke-width="1.6"/>
 <path d="M411.2,233.2 L430.8,229.2 L437.8,227.2" fill="none" stroke="#111" stroke-width="1.5"/>
 <path d="M436,212.5 C438.5,216 440,220 440,224.5 C440,227 439,229 437.5,230 L435.5,229.5 C436.5,226 436.5,221 435.5,217 Z" fill="#333"/>
 <path d="M436.8,215.5 L438.6,216.5 M437.3,219.5 L439.3,220 M437.4,223.5 L439.4,223.8 M437,227 L438.8,227.5" stroke="#fff" stroke-width="0.7"/>
 <path d="M430.5,216 L431.5,229.5 M433,215 L434.2,229" stroke="#111" stroke-width="0.8"/>
 <path d="M404,214 L409,212.5 L412,214.5" fill="none" stroke="#111" stroke-width="1.3"/>
 <!-- handle details -->
 <path d="M409.5,243 L409.8,250 M413.5,242 L414,249" stroke="#111" stroke-width="0.8"/>
 <path d="M406,252.5 L410,251.5" stroke="#111" stroke-width="1.3"/>
 <path d="M408.5,256.5 C413,255 417.5,256.5 416.5,259 C415,261 410,260 410.5,262.5 C411,264.5 417,263.5 418,266 C418.5,268.5 412.5,268 412.5,270.5 C412.5,272.5 418.5,272 419.5,274.5 C420,276.5 415,277 413,277" fill="none" stroke="#111" stroke-width="1.6"/>
 <path d="M413.5,244 C416,248 419,253 420.5,258 L423,268 L424,275 M419,241.5 C423,246 425.5,252 426.5,258" fill="none" stroke="#111" stroke-width="0.8"/>
 <path d="M421.5,256 C424,259.5 426,264 427.2,268 L428.3,272.5 L426.3,273 C425.2,268.5 423.5,263.5 421,259 Z" fill="#111"/>
 <path d="M420,252 C421.5,253.5 422.5,255 423,256.5" stroke="#111" stroke-width="1.2" fill="none"/>
 <path d="M404.5,252.3 L408.5,253.2" stroke="#111" stroke-width="1.6"/>
 <path d="M424,244.5 L425.8,245 M425,249 L426.8,249.5 M426,253.5 L427.8,254" stroke="#111" stroke-width="0.9"/>
 <!-- foot details -->
 <path d="M412.7,277.7 C418,279.5 425,277.5 430.3,273.9 M408.5,284 C416,284.5 428,283 438.5,281.5 M399,291.5 L414.5,297.5 L440,288.5 M417,299 L417.2,301.3" fill="none" stroke="#111" stroke-width="0.8"/>
 <path d="M399.5,290 L404,287.5 L409.5,289 L405,292.5 Z" fill="#fff" stroke="#111" stroke-width="0.8"/>
 <path d="M402,289.5 L404.5,288.5 L406.5,289.3 L404,290.6 Z" fill="#333"/>
 <path d="M414.5,291 L427,286.5 L439.5,284.5 L440,289 L416,297.5 Z" fill="#444" stroke="#111" stroke-width="0.8"/>
 <path d="M416.5,292.5 L438.5,285.8 M417,294.5 L439,287.5 M420,291 L421.5,295 M427,288.5 L428.5,292.5" stroke="#ddd" stroke-width="0.55"/>
 <path d="M416.5,289 L420,287.8 L421,290 L417.5,291 Z" fill="#fff"/>
</g>
<!-- latch 20 -->
<g>
 <path d="M449.4,295.7 L458.8,291.8 L461.2,294.1 L462,300.4 L463.5,305.2 L464.3,313 L462,315.4 L454.9,317 L447,320.1 L443.9,317.7 L443.9,308.3 L445.4,305.2 L448.6,300.4 Z" fill="#fff" stroke="#111" stroke-width="1" stroke-linejoin="round"/>
 <path d="M449.4,295.7 L450,299 L459,295.5 L461.2,294.1 M450,299 L449,304 L455,306.5 L462.5,303.5 M455,306.5 L455.5,313 M445.4,305.2 C447,305.5 447.5,310 447.5,314 L447,320" fill="none" stroke="#111" stroke-width="0.8"/>
 <path d="M451,309.5 L463,306.5 L463.5,309.5 L451.5,312.5 Z" fill="#222"/>
 <path d="M452,310.8 L462.5,308" stroke="#ccc" stroke-width="0.5"/>
 <path d="M444.5,310 C446,310 446.5,314 446,317" stroke="#111" stroke-width="1.2" fill="none"/>
</g>
<!-- screw 20 -->
<g>
 <path d="M471,313.5 L474,313 L476,315 L475,317.5 L472.5,317.8 L470.8,316 Z" fill="#666" stroke="#111" stroke-width="0.7"/>
 <path d="M471.5,314.5 L475,316.5 M472.5,313.5 L474.5,317" stroke="#fff" stroke-width="0.5"/>
</g>


<!-- ===== FAR RIGHT ===== -->
<!-- box 1001 -->
<g>
 <rect x="520.3" y="149" width="38.7" height="52.4" fill="#fff" stroke="#666" stroke-width="1"/>
 <path d="M520.3,153 C524,155 528,155.5 532,154.5 C538,153 544,150.5 550,151 C554,151.5 557,152 559,152.6" fill="none" stroke="#666" stroke-width="0.8"/>
 <path d="M520.3,198 C526,197.5 532,196.5 538,194.8 C543,193.5 548,195.5 552,197.3 C555,198.3 557,198.5 559,198.4" fill="none" stroke="#666" stroke-width="0.8"/>
 <circle cx="545.2" cy="163.7" r="10.3" fill="none" stroke="#888" stroke-width="0.7"/>
 <circle cx="545.2" cy="163.7" r="8.6" fill="none" stroke="#555" stroke-width="0.8"/>
 <circle cx="545.2" cy="163.7" r="7.2" fill="none" stroke="#999" stroke-width="0.6"/>
 <ellipse cx="545.2" cy="163.7" rx="5.4" ry="4.4" fill="#fff" stroke="#444" stroke-width="0.8"/>
 <path d="M539.8,161.8 L540.8,163.6 L539.8,165.4 M550.6,161.8 L549.6,163.6 L550.6,165.4" stroke="#111" stroke-width="1.2" fill="none"/>
 <path d="M524.4,178.8 L528.2,177.5 L531.3,180.7 L532.6,179.4 L542,179.4 L543.3,188.9 L533.8,188.9 L528.8,185.7 L526.9,181.9 Z" fill="#fff" stroke="#777" stroke-width="0.8" stroke-linejoin="round"/>
 <circle cx="536.4" cy="183.8" r="1.8" fill="#fff" stroke="#666" stroke-width="0.7"/>
 <path d="M537.4,165.6 L537.4,181.5 M552.2,165.6 L552.7,192.3" stroke="#111" stroke-width="1.1" fill="none"/>
 <path d="M542.6,179.6 L542.6,177.2 L548.9,176.9 L548.9,191.6" stroke="#111" stroke-width="1.1" fill="none"/>
 <path d="M543.6,178.2 L547.9,178 L548,191.6" stroke="#aaa" stroke-width="0.5" fill="none"/>
</g>
<!-- cover 95 -->
<g>
 <path d="M527.2,241.8 L548.4,237.1 L563.6,245.7 L542.6,252.4 Z" fill="#fff" stroke="#111" stroke-width="0.9" stroke-linejoin="round"/>
 <path d="M542.6,252.4 L543.4,255.2 L564.4,249.2 L563.6,245.7" fill="#fff" stroke="#111" stroke-width="0.9" stroke-linejoin="round"/>
 <path d="M527.2,241.8 L527.6,244.2 L530,246.6 L531.2,246.2" fill="none" stroke="#111" stroke-width="0.9"/>
 <path d="M548.4,237.1 L549.8,239.2 L551,239" fill="none" stroke="#111" stroke-width="1.3"/>
 <path d="M542.4,252.6 L543.2,255.6" stroke="#111" stroke-width="1.5"/>
</g>
<!-- battery -->
<g>
 <path d="M501.1,283.9 L501.7,278.9 L505.6,273.9 L516.7,265 L518.9,263.9 L526.1,265.6 L538.3,261.7 L543.9,260.6 L551.7,261.7 L561.7,266.7 L566.1,270.6 L568.9,277.2 L570.6,282.8 L570,288.3 L566.1,291.7 L539.4,298.3 L527.2,302.8 L524.4,302.2 L503.9,291.7 L501.1,287.2 Z" fill="#fff" stroke="#111" stroke-width="1.5" stroke-linejoin="round"/>
 <!-- top slab -->
 <path d="M516.7,265 L519,270.5 L539.5,281 L567.5,275 M519,270.5 L505.6,273.9 M526.1,265.6 L541,273 L563,268" fill="none" stroke="#111" stroke-width="1"/>
 <path d="M518.5,266.5 L539.5,277.5 L566,271.5 M520,268.8 L539.5,279.2 L567,273.4" fill="none" stroke="#111" stroke-width="0.85"/>
 <path d="M537.2,265.5 L546.7,260.3 L563,268.2 L548,272 Z" fill="#fff" stroke="#111" stroke-width="0.9"/>
 <path d="M533,266.5 L537.5,265.3 L548.5,272.2 L544,273.5 Z" fill="#666"/>
 <path d="M534,267 L545,273 M536,266.3 L547,272.5" stroke="#ccc" stroke-width="0.5"/>
 <path d="M540.8,263.5 L543.5,262.5 L547.5,265 L545,266.2 Z M544.5,262 L547,261.2 L551.5,263.8 L549,264.8 Z M548,264.5 L551,263.6 L555,266 L552.3,267 Z M551.5,263 L554,262.3 L558,264.8 L555.5,265.6 Z" fill="#222"/>
 <path d="M542,264.3 L545.5,266 M549,265.2 L552.5,267" stroke="#fff" stroke-width="0.5"/>
 <!-- nose (left front) -->
 <path d="M503,280 C507,278 512,279 518,282 L525.5,287.5 M502,284.5 C506,283 512,284.5 518,287.5 L524.5,292 M503,288.5 C507,288 512,289.5 518,292.5 L524.7,296.5" fill="none" stroke="#111" stroke-width="0.95"/>
 <path d="M506,275 C504.5,279 504.5,285 505.5,290.5 M509,272.5 C507.5,277 507.5,284 508.5,292.5" fill="none" stroke="#111" stroke-width="0.85"/>
 <path d="M512.5,275.8 L516.5,274 L524.8,279.3 L520.8,281.6 Z" fill="#222" stroke="#111" stroke-width="0.85"/>
 <path d="M514.5,276 L522.5,280.5 M513.5,277 L521.5,281.3" stroke="#bbb" stroke-width="0.45"/>
 <path d="M505.6,273.9 L512,275 L520.5,281.5 L524.5,286" fill="none" stroke="#111" stroke-width="0.95"/>
 <!-- front band right -->
 <path d="M525.3,288 L567.5,279.5 M526.5,291.5 L569.5,283 M526.8,295.2 L567.5,287 M525.2,288 L526.8,302.5 M539.5,283 L541,286.5 M561,279 L562,281.5" fill="none" stroke="#111" stroke-width="0.9"/>
 <path d="M534.5,296.3 L538.5,295.4 L539,297.3 L535,298.2 Z M541.5,294.5 L545.5,293.6 L546,295.4 L542,296.3 Z M552.7,289.5 L561.4,287.6 L561.8,291.8 L553.2,293.6 Z" fill="#fff" stroke="#111" stroke-width="0.95"/>
 <path d="M555,290.5 L559.5,289.5 L559.8,291.5 L555.3,292.5 Z" fill="#333"/>
 <circle cx="527.8" cy="289.8" r="2.3" fill="#fff" stroke="#111" stroke-width="1"/>
 <circle cx="531.6" cy="289.3" r="1.3" fill="#fff" stroke="#111" stroke-width="0.95"/>
 <circle cx="567" cy="283" r="2.3" fill="#fff" stroke="#111" stroke-width="1"/>
 <path d="M527.2,302.8 L528.5,298.5 L530,302" fill="none" stroke="#111" stroke-width="0.95"/>
 <path d="M525.2,299 L528.5,298.5 L529,302.5 L526,302.5 Z" fill="#444"/>
</g>
<!-- ===== LABELS ===== -->
<g class="t">
 <text transform="translate(303.3,128) scale(0.86,1)">1</text>
 <text transform="translate(373.8,128) scale(0.86,1)">10</text>
 <text transform="translate(415.2,128) scale(0.86,1)">15</text>
 <text transform="translate(528.3,128) scale(0.86,1)">1001</text>
 <text transform="translate(471.5,198.5) scale(0.86,1)">8</text>
 <text transform="translate(470,208.7) scale(0.86,1)">12</text>
 <text transform="translate(205,206) scale(0.86,1)">13</text>
 <text transform="translate(356.3,223.4) scale(0.86,1)">7</text>
 <text transform="translate(533.4,223) scale(0.86,1)">95</text>
 <text transform="translate(356.3,238.3) scale(0.86,1)">3</text>
 <text transform="translate(206.5,237.2) scale(0.86,1)">6</text>
 <text transform="translate(470,240.4) scale(0.86,1)">14</text>
 <text transform="translate(356.3,250.2) scale(0.86,1)">2</text>
 <text transform="translate(469.8,259.3) scale(0.86,1)">22</text>
 <text transform="translate(467.4,269.3) scale(0.75,1)">USA</text>
 <text transform="translate(467.4,278.5) scale(0.75,1)">CAN</text>
 <text transform="translate(467.4,288.4) scale(0.75,1)">MEX</text>
 <text transform="translate(467.4,297.4) scale(0.75,1)">only</text>
 <text transform="translate(204.5,289.4) scale(0.86,1)">21</text>
 <text transform="translate(351.8,341.9) scale(0.86,1)">67</text>
 <text transform="translate(361.3,341.9) scale(0.86,1)">66</text>
 <text transform="translate(266.5,353.3) scale(0.86,1)">16</text>
 <text transform="translate(305,353.3) scale(0.86,1)">5</text>
 <text transform="translate(317.5,353.3) scale(0.86,1)">11</text>
 <text transform="translate(331.2,353.3) scale(0.86,1)">17</text>
 <text transform="translate(372.8,353.3) scale(0.86,1)">24</text>
 <text transform="translate(383.2,353.3) scale(0.86,1)">9</text>
 <text transform="translate(416.5,353.3) scale(0.86,1)">16</text>
 <text transform="translate(446,353.3) scale(0.86,1)">20</text>
 <text transform="translate(315.8,362.8) scale(0.86,1)">801</text>
 <text transform="translate(315.8,372.1) scale(0.75,1)">USA</text>
 <text transform="translate(315.8,381.6) scale(0.75,1)">CAN</text>
 <text transform="translate(315.8,392) scale(0.75,1)">MEX</text>
 <text transform="translate(315.8,400.5) scale(0.75,1)">only</text>
</g>

<!-- ===== LEADERS ===== -->
<g class="ld">
 <path d="M304.6,129.5 V186"/>
 <path d="M377.7,129.5 V151.5"/>
 <path d="M419.2,129.5 V140.5"/>
 <path d="M537.2,130.5 V148.3"/>
 <path d="M537.2,224.8 V239.8"/>
 <path d="M407.5,196.3 H468.2"/>
 <path d="M450.2,205.4 H468.2"/>
 <path d="M213.9,202.6 H227.2"/>
 <path d="M337.7,220.2 H355.8"/>
 <path d="M333.8,235 H355.8"/>
 <path d="M213.5,234.5 H239"/>
 <path d="M454.1,237.2 H468.2"/>
 <path d="M359,250.8 V254.8"/>
 <path d="M466.7,256.4 H446.4 V261.3"/>
 <path d="M249,270.7 H209.5 V280.9"/>
 <path d="M214.7,286 H253.2"/>
 <path d="M269.7,299.5 V345"/>
 <path d="M306.3,304 V345"/>
 <path d="M322,322.6 V345"/>
 <path d="M333.3,303 V345"/>
 <path d="M356,320.5 V333.5"/>
 <path d="M339.6,350.2 H370.4 V336 M366.7,320.2 V336"/>
 <path d="M376.7,309.2 V345"/>
 <path d="M385,286.1 V345"/>
 <path d="M417.2,300.2 V345"/>
 <path d="M448.9,320 V344.5"/>
 <path d="M454.9,348.9 H473 V317.5"/>
</g>
</svg>
</body></html>
